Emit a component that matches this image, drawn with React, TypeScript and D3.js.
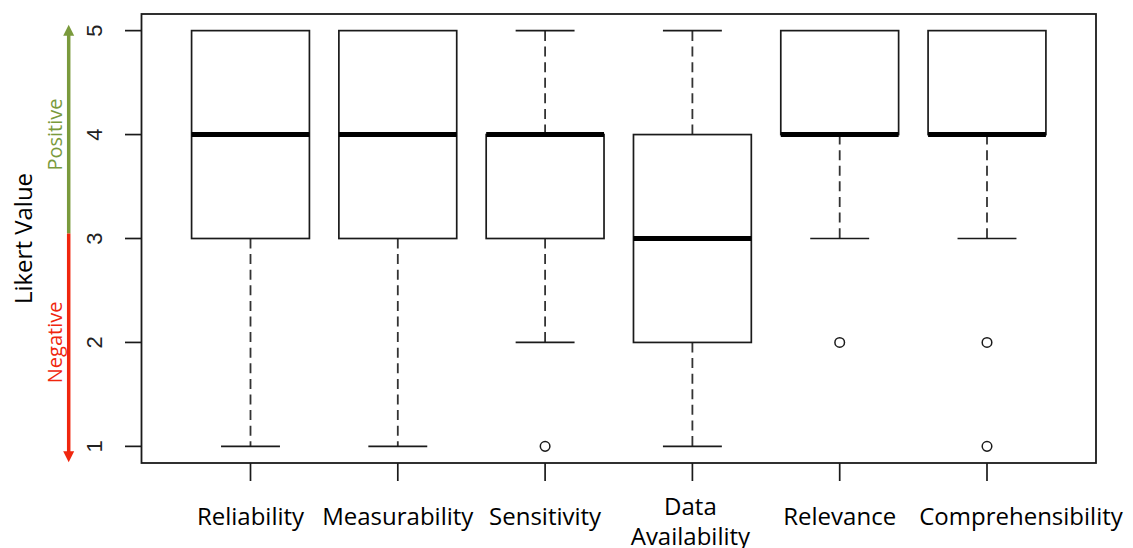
import React from "react";
import * as d3 from "d3";

const categories = ["Reliability", "Measurability", "Sensitivity", "Data Availability", "Relevance", "Comprehensibility"];
const whiskerLow = [1, 1, 2, 1, 3, 3];
const q1 = [3, 3, 3, 2, 4, 4];
const median = [4, 4, 4, 3, 4, 4];
const q3 = [5, 5, 4, 4, 5, 5];
const whiskerHigh = [5, 5, 5, 5, 5, 5];
const outliers: number[][] = [[], [], [1], [], [2], [2, 1]];
const yTicks = [1, 2, 3, 4, 5];
const categoryLines: string[][] = [["Reliability"], ["Measurability"], ["Sensitivity"], ["Data", "Availability"], ["Relevance"], ["Comprehensibility"]];

const W = 1133;
const H = 548;
const plot = { left: 141.5, right: 1096, top: 14, bottom: 463 };
// label nudges (px) so the last long label does not collide with its neighbour
const labelNudge = [0, 0, 0, -2, 0, 34];

export default function App() {
  const x = d3.scaleLinear().domain([0.26, 6.74]).range([plot.left, plot.right]);
  const y = d3.scaleLinear().domain([0.84, 5.16]).range([plot.bottom, plot.top]);
  const boxHalf = x(1.4) - x(1);
  const capHalf = boxHalf / 2;
  const sans = "'Open Sans', sans-serif";
  const green = "#7A9A3C";
  const red = "#F0260E";
  const arrowX = 68.7;
  const splitY = y(3) - 5;
  const ink = "#1a1a1a";
  return (
    <svg width={W} height={H} style={{ position: "absolute", left: 0, top: 0, background: "#fff" }}>
      <rect x={0} y={0} width={W} height={H} fill="#fff" />
      {/* frame */}
      <rect x={plot.left} y={plot.top} width={plot.right - plot.left} height={plot.bottom - plot.top} fill="none" stroke={ink} strokeWidth={1.8} />
      {/* y axis */}
      {yTicks.map((t) => (
        <g key={"yt" + t}>
          <line x1={125} x2={plot.left} y1={y(t)} y2={y(t)} stroke={ink} strokeWidth={1.7} />
          <text
            transform={`translate(102,${y(t)}) rotate(-90)`}
            textAnchor="middle"
            fontFamily="'Liberation Sans', Arial, sans-serif"
            fontSize={22}
            fill="#222"
          >
            {t}
          </text>
        </g>
      ))}
      {/* x ticks */}
      {categories.map((c, i) => (
        <line key={"xt" + c} x1={x(i + 1)} x2={x(i + 1)} y1={plot.bottom} y2={481} stroke={ink} strokeWidth={1.7} />
      ))}
      {categoryLines.map((lines, i) =>
        lines.map((ln, k) => (
          <text
            key={"xl" + i + "-" + k}
            x={x(i + 1) + labelNudge[i]}
            y={lines.length === 1 ? 525 : k === 0 ? 515 : 545}
            textAnchor="middle"
            fontFamily={sans}
            fontSize={24}
            fill="#000"
          >
            {ln}
          </text>
        ))
      )}
      {/* boxes */}
      {categories.map((c, i) => {
        const cx = x(i + 1);
        return (
          <g key={"b" + c}>
            {whiskerLow[i] < q1[i] && (
              <>
                <line x1={cx} x2={cx} y1={y(q1[i])} y2={y(whiskerLow[i])} stroke="#333" strokeWidth={1.8} strokeDasharray="10,5.6" />
                <line x1={cx - capHalf} x2={cx + capHalf} y1={y(whiskerLow[i])} y2={y(whiskerLow[i])} stroke={ink} strokeWidth={1.7} />
              </>
            )}
            {whiskerHigh[i] > q3[i] && (
              <>
                <line x1={cx} x2={cx} y1={y(q3[i])} y2={y(whiskerHigh[i])} stroke="#333" strokeWidth={1.8} strokeDasharray="10,5.6" />
                <line x1={cx - capHalf} x2={cx + capHalf} y1={y(whiskerHigh[i])} y2={y(whiskerHigh[i])} stroke={ink} strokeWidth={1.7} />
              </>
            )}
            <rect x={cx - boxHalf} y={y(q3[i])} width={boxHalf * 2} height={y(q1[i]) - y(q3[i])} fill="#fff" stroke={ink} strokeWidth={1.7} />
            <line x1={cx - boxHalf} x2={cx + boxHalf} y1={y(median[i])} y2={y(median[i])} stroke="#000" strokeWidth={5} />
            {outliers[i].map((o, k) => (
              <circle key={k} cx={cx} cy={y(o)} r={4.8} fill="none" stroke={ink} strokeWidth={1.5} />
            ))}
          </g>
        );
      })}
      {/* Likert title */}
      <text transform={`translate(32,${y(3)}) rotate(-90)`} textAnchor="middle" fontFamily={sans} fontSize={24} fill="#000">
        Likert Value
      </text>
      {/* arrows */}
      <line x1={arrowX} x2={arrowX} y1={splitY} y2={34} stroke={green} strokeWidth={3.5} />
      <path d={`M${arrowX},${y(5) - 6} L${arrowX - 5.5},${y(5) + 5} L${arrowX + 5.5},${y(5) + 5} Z`} fill={green} />
      <line x1={arrowX} x2={arrowX} y1={splitY} y2={453} stroke={red} strokeWidth={3.5} />
      <path d={`M${arrowX},${y(1) + 16} L${arrowX - 5.5},${y(1) + 5} L${arrowX + 5.5},${y(1) + 5} Z`} fill={red} />
      <text transform={`translate(62,${y(4)}) rotate(-90)`} textAnchor="middle" fontFamily={sans} fontSize={20} fill={green}>
        Positive
      </text>
      <text transform={`translate(62,${y(2)}) rotate(-90)`} textAnchor="middle" fontFamily={sans} fontSize={20} fill={red}>
        Negative
      </text>
    </svg>
  );
}
